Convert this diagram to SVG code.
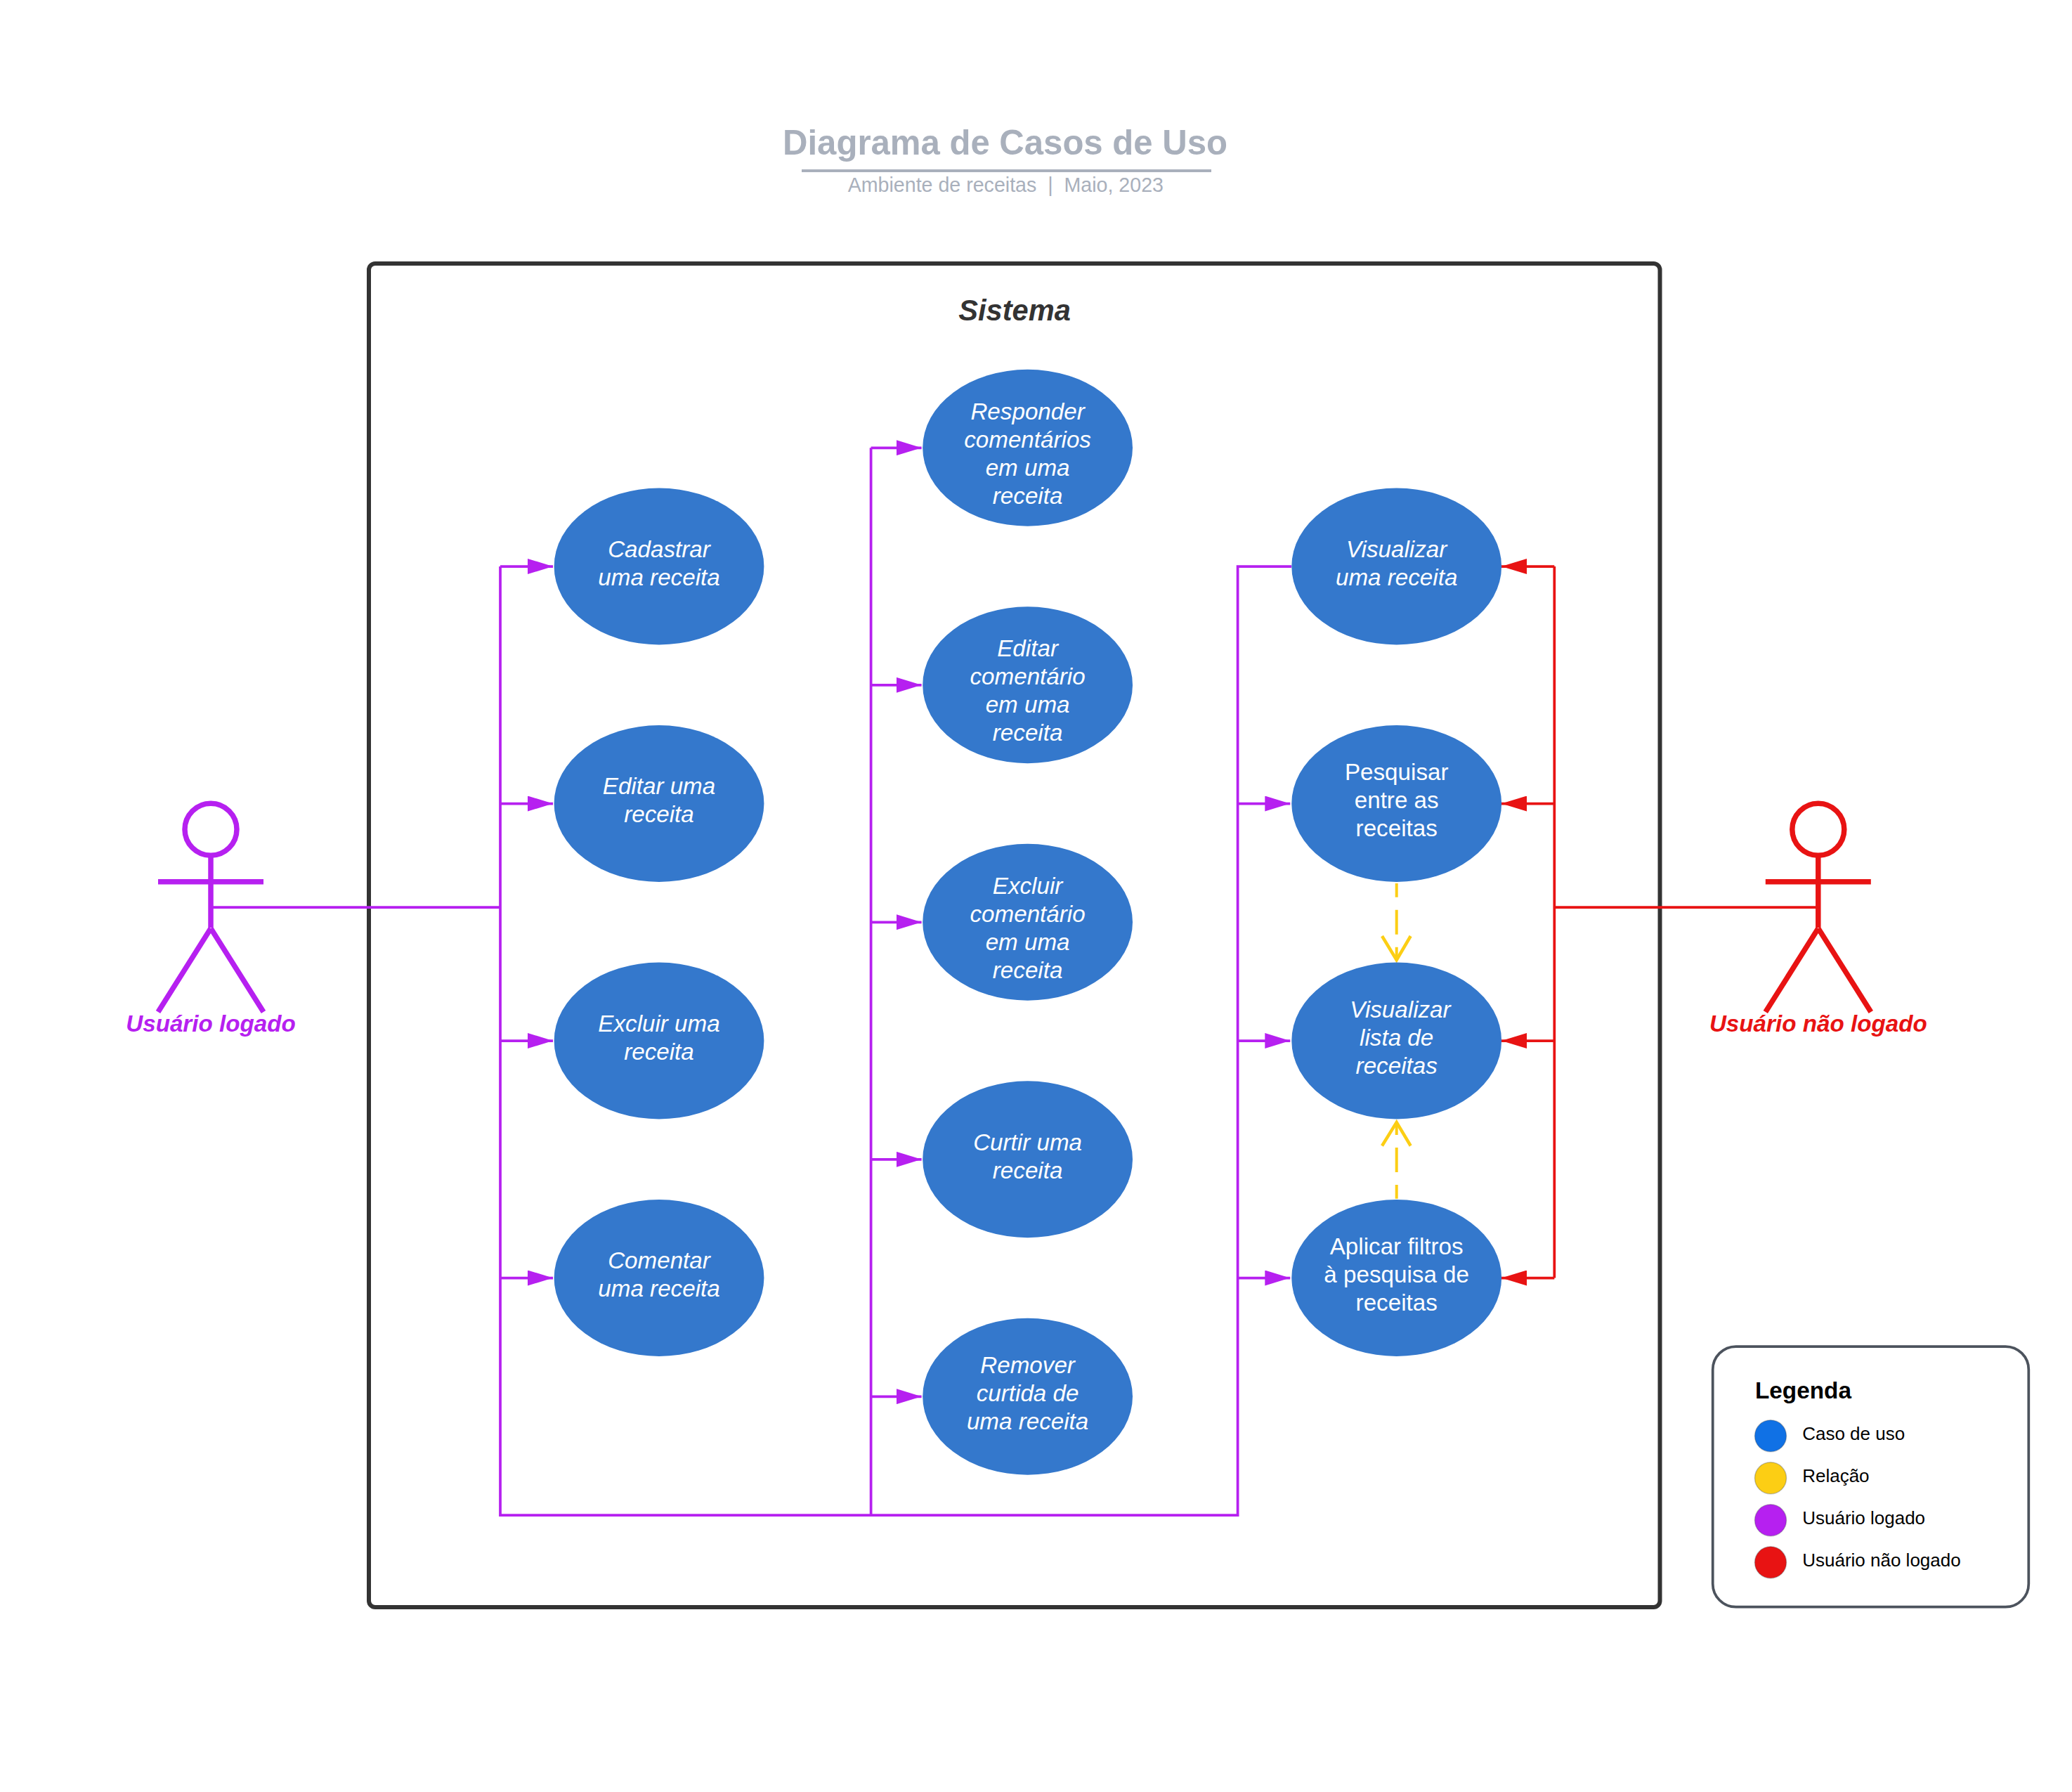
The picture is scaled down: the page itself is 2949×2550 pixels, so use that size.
<svg xmlns="http://www.w3.org/2000/svg" width="2949" height="2550" viewBox="0 0 2949 2550">
<style>
text{font-family:"Liberation Sans",Arial,sans-serif;white-space:pre}
.uc{fill:#3478CC}
.uc text{fill:#fff;font-size:33.2px;text-anchor:middle}
.it text{font-style:italic}
.pu{fill:none;stroke:#B620F0;stroke-width:3.75}
.re{fill:none;stroke:#E81313;stroke-width:3.75}
.ye{fill:none;stroke:#FCCE14;stroke-width:4;stroke-dasharray:35 18;stroke-dashoffset:15.3}
.yo{fill:none;stroke:#FCCE14;stroke-width:4.5}
.leg{font-size:26px;fill:#000}
.dot{stroke:#3A414A;stroke-opacity:.3;stroke-width:1.5}
.act{fill:none;stroke-width:7.5}
.actl{font-size:33.2px;font-weight:bold;font-style:italic;text-anchor:middle}
</style>
<defs>
<marker id="ap" markerUnits="userSpaceOnUse" markerWidth="36" markerHeight="22" refX="36" refY="11" orient="auto"><path d="M0 0L36 11L0 22Z" fill="#B620F0"/></marker>
<marker id="ar" markerUnits="userSpaceOnUse" markerWidth="36" markerHeight="22" refX="36" refY="11" orient="auto"><path d="M0 0L36 11L0 22Z" fill="#E81313"/></marker>
</defs>
<rect width="2949" height="2550" fill="#fff"/>
<g id="title">
<text x="1114" y="220" font-size="49.1" font-weight="bold" fill="#A9B0BC">Diagrama de Casos de Uso</text>
<rect x="1141" y="241" width="583" height="4" fill="#A9B0BC"/>
<text x="1206.7" y="273.3" font-size="28.6" fill="#A9B0BC">Ambiente de receitas  |  Maio, 2023</text>
</g>
<g id="sistema">
<rect x="525" y="375" width="1837.5" height="1912" rx="9" fill="none" stroke="#333" stroke-width="6"/>
<text x="1444" y="455.5" font-size="41.6" font-weight="bold" font-style="italic" fill="#333" text-anchor="middle">Sistema</text>
</g>
<g id="connectors">
<path class="pu" d="M300 1291H712M712 2157.9V806M710.1 2156H1763.5M1239.6 2156V637.25M1761.6 2156V806H1838"/>
<g class="pu">
<path d="M712 806H787" marker-end="url(#ap)"/><path d="M712 1143.5H787" marker-end="url(#ap)"/><path d="M712 1481H787" marker-end="url(#ap)"/><path d="M712 1818.5H787" marker-end="url(#ap)"/>
<path d="M1239.6 637.25H1311.6" marker-end="url(#ap)"/><path d="M1239.6 974.75H1311.6" marker-end="url(#ap)"/><path d="M1239.6 1312.25H1311.6" marker-end="url(#ap)"/><path d="M1239.6 1649.75H1311.6" marker-end="url(#ap)"/><path d="M1239.6 1987.25H1311.6" marker-end="url(#ap)"/>
<path d="M1761.6 1143.5H1836.3" marker-end="url(#ap)"/><path d="M1761.6 1481H1836.3" marker-end="url(#ap)"/><path d="M1761.6 1818.5H1836.3" marker-end="url(#ap)"/>
</g>
<path class="re" d="M2588 1291H2212.3M2212.3 806V1818.5"/>
<path class="re" d="M2212.3 806H2137" marker-end="url(#ar)"/><path class="re" d="M2212.3 1143.5H2137" marker-end="url(#ar)"/><path class="re" d="M2212.3 1481H2137" marker-end="url(#ar)"/><path class="re" d="M2212.3 1818.5H2137" marker-end="url(#ar)"/>
<path class="ye" d="M1987.7 1257V1366"/><path class="yo" d="M1967 1332L1987.7 1366L2007.7 1332"/>
<path class="ye" d="M1987.7 1705.7V1597"/><path class="yo" d="M1967 1630.5L1987.7 1597L2007.7 1630.5"/>
</g>
<g id="uc-cadastrar" class="uc it"><ellipse cx="938" cy="806" rx="149.4" ry="111.5"/><text x="938" y="792.7">Cadastrar</text><text x="938" y="832.7">uma receita</text></g>
<g id="uc-editar" class="uc it"><ellipse cx="938" cy="1143.5" rx="149.4" ry="111.5"/><text x="938" y="1130.2">Editar uma</text><text x="938" y="1170.2">receita</text></g>
<g id="uc-excluir" class="uc it"><ellipse cx="938" cy="1481" rx="149.4" ry="111.5"/><text x="938" y="1467.7">Excluir uma</text><text x="938" y="1507.7">receita</text></g>
<g id="uc-comentar" class="uc it"><ellipse cx="938" cy="1818.5" rx="149.4" ry="111.5"/><text x="938" y="1805.2">Comentar</text><text x="938" y="1845.2">uma receita</text></g>
<g id="uc-responder" class="uc it"><ellipse cx="1462.6" cy="637.25" rx="149.4" ry="111.5"/><text x="1462.6" y="596.5">Responder</text><text x="1462.6" y="636.5">comentários</text><text x="1462.6" y="676.5">em uma</text><text x="1462.6" y="716.5">receita</text></g>
<g id="uc-editar-comentario" class="uc it"><ellipse cx="1462.6" cy="974.75" rx="149.4" ry="111.5"/><text x="1462.6" y="934">Editar</text><text x="1462.6" y="974">comentário</text><text x="1462.6" y="1014">em uma</text><text x="1462.6" y="1054">receita</text></g>
<g id="uc-excluir-comentario" class="uc it"><ellipse cx="1462.6" cy="1312.25" rx="149.4" ry="111.5"/><text x="1462.6" y="1271.5">Excluir</text><text x="1462.6" y="1311.5">comentário</text><text x="1462.6" y="1351.5">em uma</text><text x="1462.6" y="1391.5">receita</text></g>
<g id="uc-curtir" class="uc it"><ellipse cx="1462.6" cy="1649.75" rx="149.4" ry="111.5"/><text x="1462.6" y="1636.5">Curtir uma</text><text x="1462.6" y="1676.5">receita</text></g>
<g id="uc-remover" class="uc it"><ellipse cx="1462.6" cy="1987.25" rx="149.4" ry="111.5"/><text x="1462.6" y="1954">Remover</text><text x="1462.6" y="1994">curtida de</text><text x="1462.6" y="2034">uma receita</text></g>
<g id="uc-visualizar" class="uc it"><ellipse cx="1987.7" cy="806" rx="149.4" ry="111.5"/><text x="1987.7" y="792.7">Visualizar</text><text x="1987.7" y="832.7">uma receita</text></g>
<g id="uc-pesquisar" class="uc"><ellipse cx="1987.7" cy="1143.5" rx="149.4" ry="111.5"/><text x="1987.7" y="1110.3">Pesquisar</text><text x="1987.7" y="1150.3">entre as</text><text x="1987.7" y="1190.3">receitas</text></g>
<g id="uc-lista" class="uc it"><ellipse cx="1987.7" cy="1481" rx="149.4" ry="111.5"/><text x="1993" y="1447.8">Visualizar</text><text x="1987.7" y="1487.8">lista de</text><text x="1987.7" y="1527.8">receitas</text></g>
<g id="uc-filtros" class="uc"><ellipse cx="1987.7" cy="1818.5" rx="149.4" ry="111.5"/><text x="1987.7" y="1785.3">Aplicar filtros</text><text x="1987.7" y="1825.3">à pesquisa de</text><text x="1987.7" y="1865.3">receitas</text></g>
<g id="actor-logado">
<g class="act" stroke="#B620F0"><circle cx="300" cy="1180.3" r="37"/><path d="M300 1217.5V1320M225 1254.7H375M300 1321L225 1440M300 1321L375 1440"/></g>
<text class="actl" x="300" y="1467.5" fill="#B620F0">Usuário logado</text>
</g>
<g id="actor-nao-logado">
<g class="act" stroke="#E81313"><circle cx="2587.8" cy="1180.3" r="37"/><path d="M2587.8 1217.5V1320M2512.8 1254.7H2662.8M2587.8 1321L2512.8 1440M2587.8 1321L2662.8 1440"/></g>
<text class="actl" x="2587.8" y="1467.5" fill="#E81313">Usuário não logado</text>
</g>
<g id="legenda">
<rect x="2437.7" y="1916" width="449.6" height="370.7" rx="33" fill="#fff" stroke="#4C535D" stroke-width="3.75"/>
<text x="2498" y="1990" font-size="33.3" font-weight="bold" fill="#000">Legenda</text>
<circle class="dot" cx="2520" cy="2043.3" r="22.5" fill="#1071E5"/><text class="leg" x="2565.2" y="2049">Caso de uso</text>
<circle class="dot" cx="2520" cy="2103.3" r="22.5" fill="#FCCE14"/><text class="leg" x="2565.2" y="2109">Relação</text>
<circle class="dot" cx="2520" cy="2163.3" r="22.5" fill="#B620F0"/><text class="leg" x="2565.2" y="2169">Usuário logado</text>
<circle class="dot" cx="2520" cy="2223.3" r="22.5" fill="#E81313"/><text class="leg" x="2565.2" y="2229">Usuário não logado</text>
</g>
</svg>
